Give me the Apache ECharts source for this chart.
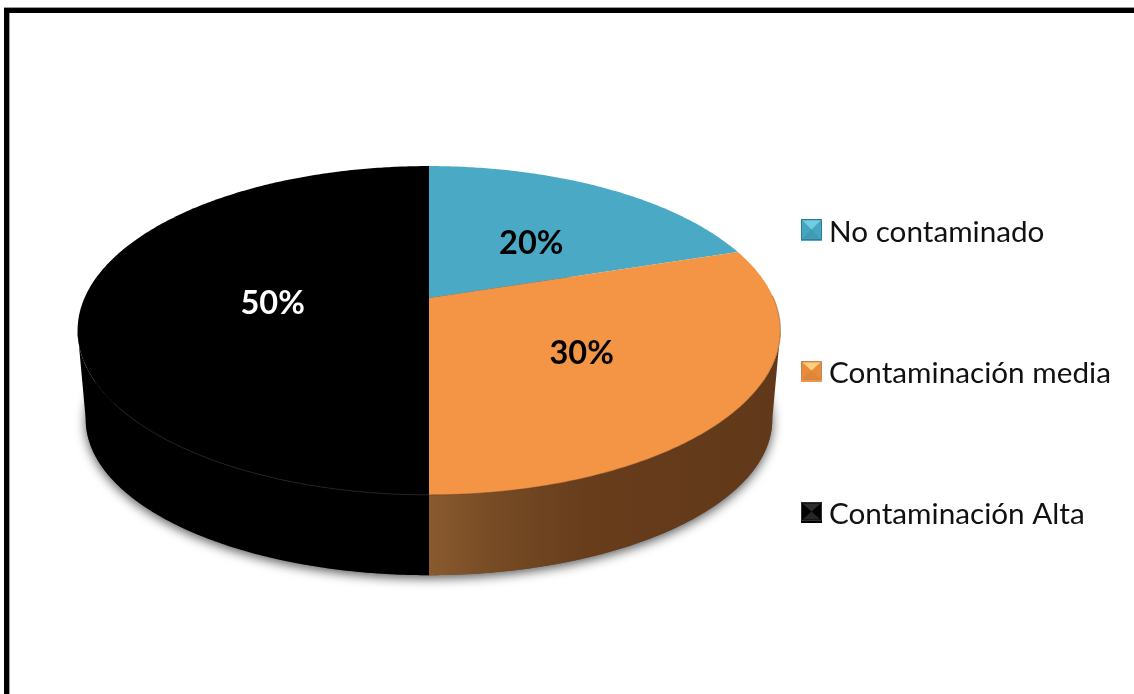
<!DOCTYPE html>
<html>
<head>
<meta charset="utf-8">
<style>html,body{margin:0;padding:0;background:#fff}#c{width:1134px;height:694px}</style>
<script src="https://cdn.jsdelivr.net/npm/echarts@6/dist/echarts.min.js"></script>
</head>
<body>
<div id="c"></div>
<script>
const categories = ['No contaminado', 'Contaminación media', 'Contaminación Alta'];
const values = [20, 30, 50];
const topColors = ['#4aa9c4', '#f39545', '#000000'];
const labelColors = ['#000000', '#000000', '#ffffff'];

// projection of the tilted disc (layout only, not data)
const topPlane = {cx: 429, cy: 298, a: 158, b: 344.5, p: 0.1975};
const basePlane = {cx: 429, cy: 390, a: 150, b: 337, p: 0.19};
const labelRadius = 0.48;
const labelNudge = [[12, 3], [11, 8], [9, 6]];

const total = values.reduce((s, v) => s + v, 0);
const startAngles = [];
values.reduce((s, v, i) => { startAngles[i] = s; return s + v; }, 0);

function project(pl, theta, r) {
  const w = 1 + pl.p * r * Math.cos(theta);
  return [pl.cx + pl.b * r * Math.sin(theta) / w, pl.cy - pl.a * r * Math.cos(theta) / w];
}
function arc(pl, t0, t1) {
  const n = Math.max(2, Math.ceil(Math.abs(t1 - t0) / 0.01));
  const pts = [];
  for (let i = 0; i <= n; i++) pts.push(project(pl, t0 + (t1 - t0) * i / n, 1));
  return pts;
}
// front-facing part of the rim of a plane, clipped to a slice
function frontRange(pl, t0, t1) {
  const e = Math.acos(-pl.p);
  return [Math.max(t0, e), Math.min(t1, 2 * Math.PI - e)];
}
const sideFills = [
  '#2f6f82',
  {type: 'linear', x: 0, y: 0, x2: 1, y2: 0, colorStops: [
    {offset: 0, color: '#8a5a2e'}, {offset: 0.2, color: '#754a24'},
    {offset: 0.45, color: '#673d1c'}, {offset: 1, color: '#613819'}]},
  '#000000'
];
function makeRender(idx) {
  return function () {
    const t0 = startAngles[idx] / total * 2 * Math.PI;
    const t1 = (startAngles[idx] + values[idx]) / total * 2 * Math.PI;
    const children = [];
    if (idx === 0) {
      children.push({type: 'polygon', shape: {points: arc(basePlane, 0, 2 * Math.PI)},
        style: {fill: '#555', shadowBlur: 11, shadowColor: 'rgba(0,0,0,0.65)', shadowOffsetY: 3, shadowOffsetX: 0}});
    }
    const rt = frontRange(topPlane, t0, t1);
    const rb = frontRange(basePlane, t0, t1);
    if (rt[1] > rt[0]) {
      children.push({type: 'polygon',
        shape: {points: arc(topPlane, rt[0], rt[1]).concat(arc(basePlane, rb[1], rb[0]))},
        style: {fill: sideFills[idx]}});
    }
    const topArc = arc(topPlane, t0, t1);
    children.push({type: 'polygon',
      shape: {points: [project(topPlane, 0, 0)].concat(topArc)},
      style: {fill: topColors[idx]}});
    if (idx === 1) {
      children.push({type: 'polyline', shape: {points: arc(topPlane, t0 + 0.3, t1)},
        style: {fill: 'none', stroke: 'rgba(100,58,25,0.35)', lineWidth: 1.2}});
    }
    if (idx === 2) {
      children.push({type: 'polyline', shape: {points: arc(topPlane, Math.PI * 1.0, Math.PI * 1.3)},
        style: {fill: 'none', stroke: '#222222', lineWidth: 1}});
    }
    const mid = (t0 + t1) / 2;
    const lp = project(topPlane, mid, labelRadius);
    children.push({type: 'text', z2: 10, style: {
      x: lp[0] + labelNudge[idx][0], y: lp[1] + labelNudge[idx][1],
      text: Math.round(values[idx] / total * 100) + '%',
      fill: labelColors[idx], align: 'center', verticalAlign: 'middle',
      font: 'bold 32.5px Lato'}});
    return {type: 'group', children};
  };
}

// bevelled look of the legend keys: c = [top face, side faces, bottom face, rim]
function bevel(x, y, w, h, c) {
  const i = 1.5, m = [x + w / 2, y + h / 2];
  const tl = [x, y], tr = [x + w, y], br = [x + w, y + h], bl = [x, y + h];
  const face = (pts, fill) => ({type: 'polygon', silent: true, z: 20, shape: {points: pts}, style: {fill}});
  return [
    face([tl, tr, br, bl], c[1]),
    face([[x + i, y + i], [x + w - i, y + i], m], c[0]),
    face([[x + i, y + h - i], [x + w - i, y + h - i], m], c[2]),
    {type: 'rect', silent: true, z: 20, shape: {x: x + 0.5, y: y + 0.5, width: w - 1, height: h - 1},
     style: {fill: 'none', stroke: c[3], lineWidth: 1}}
  ];
}

const chart = echarts.init(document.getElementById('c'), null, {renderer: 'canvas'});
chart.setOption({
  backgroundColor: '#ffffff',
  animation: false,
  legend: {
    orient: 'vertical', left: 796, top: 212, itemGap: 111,
    itemWidth: 21, itemHeight: 18, icon: 'rect', selectedMode: false,
    textStyle: {fontFamily: 'Lato', fontSize: 29.7, color: '#111111', padding: [2, 0, 0, 2]},
    data: categories.map(c => ({name: c}))
  },
  graphic: [
    {type: 'rect', silent: true, shape: {x: 4, y: 7, width: 1130, height: 1}, style: {fill: '#9a9a9a'}},
    {type: 'rect', silent: true, shape: {x: 4, y: 8, width: 1130, height: 5}, style: {fill: '#000'}},
    {type: 'rect', silent: true, shape: {x: 4, y: 8, width: 5, height: 686}, style: {fill: '#000'}},
    {type: 'rect', silent: true, shape: {x: 9, y: 13, width: 1, height: 681}, style: {fill: '#a0a0a0'}}
  ].concat(
    bevel(801, 219, 21, 21, ['#72cde3', '#46a6c1', '#3f9ab4', '#2f7d94']),
    bevel(801, 361, 21, 19, ['#ffcf80', '#ea8b3a', '#e08436', '#c08a5c']),
    bevel(801, 502, 21, 19, ['#2e2e2e', '#030303', '#262626', '#303030'])
  ),
  series: categories.map((name, i) => ({
    type: 'custom', name, coordinateSystem: 'none', z: 2 + i,
    itemStyle: {color: topColors[i]},
    renderItem: makeRender(i),
    data: [values[i]],
    silent: true
  }))
});
</script>
</body>
</html>
